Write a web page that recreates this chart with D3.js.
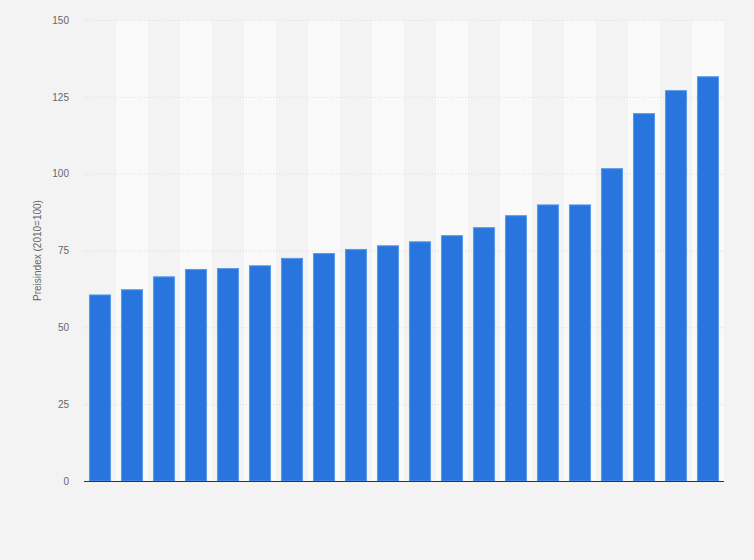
<!DOCTYPE html>
<html>
<head>
<meta charset="utf-8">
<script src="https://cdn.jsdelivr.net/npm/d3@7"></script>
<style>
  body { margin: 0; background: #f3f3f3; }
  svg { display: block; font-family: "Liberation Sans", Arial, sans-serif; }
</style>
</head>
<body>
<svg id="chart"></svg>
<script>
// categories (x labels are not shown in the chart)
const categories = ["1", "2", "3", "4", "5", "6", "7", "8", "9", "10",
                    "11", "12", "13", "14", "15", "16", "17", "18", "19", "20"];
const values = [60.7, 62.4, 66.6, 69.0, 69.3, 70.2, 72.6, 74.2, 75.5, 76.7,
                78.0, 80.0, 82.6, 86.5, 90.0, 90.0, 101.8, 119.7, 127.2, 131.7];
const yTicks = [0, 25, 50, 75, 100, 125, 150];
const yLabel = "Preisindex (2010=100)";

const width = 754, height = 560;
const margin = { top: 20, right: 30, bottom: 79, left: 84 };
const innerW = width - margin.left - margin.right;
const innerH = height - margin.top - margin.bottom;

const svg = d3.select("#chart")
    .attr("width", width)
    .attr("height", height);

const chart = svg.append("g")
    .attr("transform", `translate(${margin.left},${margin.top})`);

const x = d3.scaleBand()
    .domain(categories)
    .range([0, innerW])
    .paddingInner(0.31)
    .paddingOuter(0.155);

const y = d3.scaleLinear()
    .domain([0, 150])
    .range([innerH, 0]);

const step = innerW / categories.length;

// alternating column backgrounds
chart.selectAll("rect.band")
    .data(categories)
    .join("rect")
    .attr("class", "band")
    .attr("x", (d, i) => i * step)
    .attr("y", 0)
    .attr("width", step)
    .attr("height", innerH)
    .attr("fill", (d, i) => i % 2 ? "#f9f9f9" : "#f3f3f3");

// gridlines
chart.selectAll("line.grid")
    .data(yTicks.filter(t => t > 0))
    .join("line")
    .attr("class", "grid")
    .attr("x1", 0)
    .attr("x2", innerW)
    .attr("y1", d => y(d) + 0.5)
    .attr("y2", d => y(d) + 0.5)
    .attr("stroke", "#dcdcdc")
    .attr("stroke-dasharray", "1,2");

// y axis labels
const yAxis = chart.append("g")
    .call(d3.axisLeft(y).tickValues(yTicks).tickSize(0).tickPadding(15));
yAxis.select(".domain").remove();
yAxis.selectAll("text")
    .attr("fill", "#666")
    .style("font-size", "10px");

// bars
chart.selectAll("rect.bar")
    .data(values)
    .join("rect")
    .attr("class", "bar")
    .attr("x", (d, i) => x(categories[i]) + 0.5)
    .attr("y", d => y(d) + 0.5)
    .attr("width", x.bandwidth() - 1)
    .attr("height", d => innerH - y(d) - 0.5)
    .attr("fill", "#2876dd")
    .attr("stroke", "#5d9be8")
    .attr("stroke-width", 1);

// baseline
chart.append("line")
    .attr("x1", 0)
    .attr("x2", innerW)
    .attr("y1", innerH + 0.5)
    .attr("y2", innerH + 0.5)
    .attr("stroke", "#333")
    .attr("stroke-width", 1);

// y axis title
svg.append("text")
    .attr("transform", `translate(41,${margin.top + innerH / 2}) rotate(-90)`)
    .attr("text-anchor", "middle")
    .attr("fill", "#666")
    .style("font-size", "10px")
    .text(yLabel);
</script>
</body>
</html>
